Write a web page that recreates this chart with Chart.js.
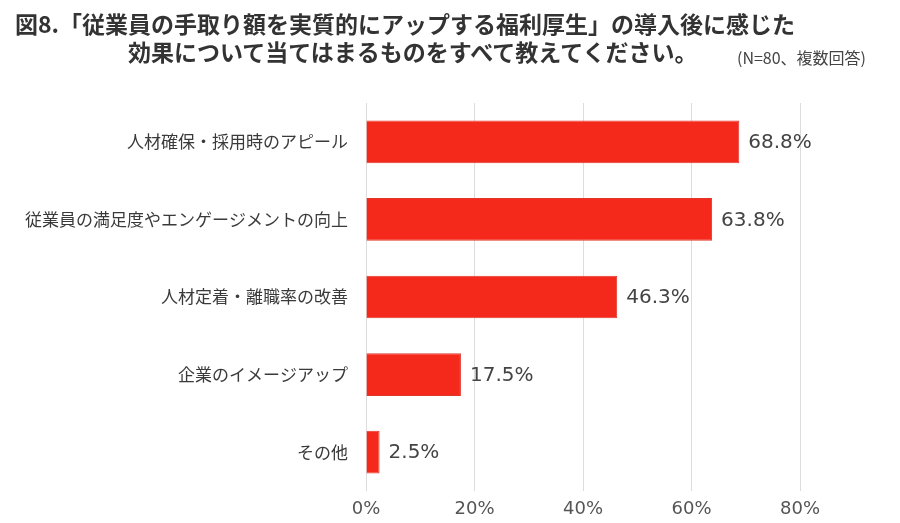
<!DOCTYPE html>
<html lang="ja">
<head>
<meta charset="utf-8">
<script src="https://cdn.jsdelivr.net/npm/chart.js@4"></script>
<style>
  html, body { margin: 0; padding: 0; background: #fff; }
  #wrap { position: relative; width: 900px; height: 523px; overflow: hidden; }
  #chart { position: absolute; left: 0; top: 0; }
  .ttl { position: absolute; font-family: "Noto Sans CJK JP", sans-serif; font-weight: bold;
         font-size: 23px; color: #333; white-space: nowrap; line-height: 1; }
  .note { position: absolute; font-family: "Noto Sans CJK JP", sans-serif;
          font-size: 16px; color: #444; white-space: nowrap; line-height: 1; }
</style>
</head>
<body>
<div id="wrap">
  <canvas id="chart" width="900" height="523"></canvas>
  <div class="ttl" style="left:15px; top:12px;">図8.「従業員の手取り額を実質的にアップする福利厚生」の導入後に感じた</div>
  <div class="ttl" style="left:128px; top:40px;">効果について当てはまるものをすべて教えてください。</div>
  <div class="note" style="left:737px; top:49px;">(N=80、複数回答)</div>
</div>
<script>
// データ
const categories = [
    '人材確保・採用時のアピール',
    '従業員の満足度やエンゲージメントの向上',
    '人材定着・離職率の改善',
    '企業のイメージアップ',
    'その他'
];
const values = [68.8, 63.8, 46.3, 17.5, 2.5];
const tickValues = [0, 20, 40, 60, 80];

// 棒の右に値を描くプラグイン
const valueLabels = {
    id: 'valueLabels',
    afterDatasetsDraw(chart) {
        const ctx = chart.ctx;
        const meta = chart.getDatasetMeta(0);
        ctx.save();
        ctx.font = '20px "DejaVu Sans", sans-serif';
        ctx.fillStyle = '#444';
        ctx.textAlign = 'left';
        ctx.textBaseline = 'middle';
        meta.data.forEach((bar, i) => {
            ctx.fillText(values[i].toFixed(1) + '%', bar.x + 9, bar.y + 1);
        });
        ctx.restore();
    }
};

new Chart(document.getElementById('chart'), {
    type: 'bar',
    data: {
        labels: categories,
        datasets: [{
            data: values,
            backgroundColor: '#f5291b',
            borderColor: '#e0372c',
            borderWidth: 1,
            barPercentage: 0.55,
            categoryPercentage: 1.0
        }]
    },
    options: {
        indexAxis: 'y',
        responsive: false,
        animation: false,
        layout: { padding: { top: 103, right: 100, bottom: 0, left: 0 } },
        plugins: {
            legend: { display: false },
            tooltip: { enabled: false }
        },
        scales: {
            x: {
                min: 0,
                max: 80,
                afterBuildTicks(axis) {
                    axis.ticks = tickValues.map(v => ({ value: v }));
                },
                afterFit(axis) { axis.height = 32; },
                grid: { color: '#dcdcdc', lineWidth: 1, drawTicks: false },
                border: { display: false },
                ticks: {
                    padding: 8,
                    color: '#555',
                    font: { family: '"DejaVu Sans", sans-serif', size: 18 },
                    callback: v => v + '%'
                }
            },
            y: {
                afterFit(axis) { axis.width = 366; },
                grid: { display: false },
                border: { display: false },
                ticks: {
                    padding: 10,
                    color: '#3a3a3a',
                    font: { family: '"Noto Sans CJK JP", sans-serif', size: 17 }
                }
            }
        }
    },
    plugins: [valueLabels]
});
</script>
</body>
</html>
